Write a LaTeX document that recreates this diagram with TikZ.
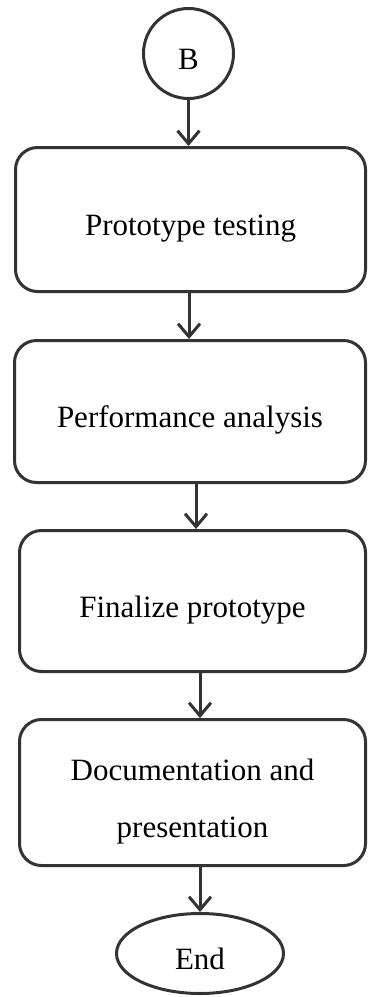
\documentclass[tikz,border=0pt]{standalone}
\usepackage{fontspec}
\setmainfont{Liberation Serif}
\usetikzlibrary{arrows.meta,shapes.geometric}
\definecolor{ink}{gray}{0.2}
\tikzset{
  shapeline/.style={draw=ink, line width=3pt, inner sep=0pt, text=black,
    font={\fontsize{31}{57}\selectfont}, text height=36pt, text depth=4pt},
  stepbox/.style={shapeline, rounded corners=22pt},
  arr/.style={draw=ink, line width=3pt, -{Straight Barb[length=13pt,width=22pt,line width=3pt]}}
}
\begin{document}
\begin{tikzpicture}[x=1pt,y=-1pt]
\useasboundingbox (0,0) rectangle (368,997);
\node[shapeline, circle, minimum size=90pt] (B) at (188.5,53.5) {B};
\node[stepbox, minimum width=350pt, minimum height=144pt] (p1) at (190.5,219.5) {Prototype testing};
\node[stepbox, minimum width=351pt, minimum height=142pt] (p2) at (190,411.5) {Performance analysis};
\node[stepbox, minimum width=346pt, minimum height=141pt] (p3) at (192.5,601) {Finalize prototype};
\node[stepbox, minimum width=346pt, minimum height=146pt, align=center, text height=93pt, text depth=4pt] (p4) at (192.5,792.5) {Documentation and\\presentation};
\node[shapeline, ellipse, minimum width=167pt, minimum height=80pt] (E) at (200,953.5) {End};
\draw[arr] (B.south) -- (B.south |- p1.north);
\draw[arr] ([xshift=-1.5pt]p1.south) -- ([xshift=-1.5pt]p1.south |- p2.north);
\draw[arr] ([xshift=6pt]p2.south) -- ([xshift=6pt]p2.south |- p3.north);
\draw[arr] ([xshift=7.5pt]p3.south) -- ([xshift=7.5pt]p3.south |- p4.north);
\draw[arr] (E.north |- p4.south) -- (E.north);
\end{tikzpicture}
\end{document}
